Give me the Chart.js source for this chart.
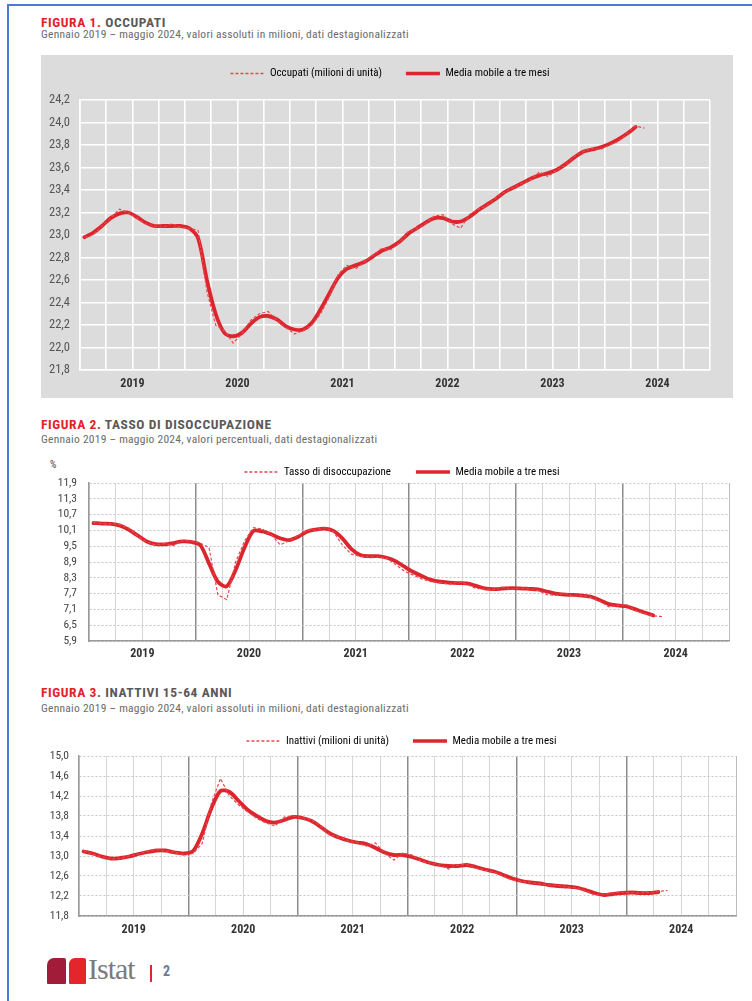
<!DOCTYPE html>
<html><head><meta charset="utf-8">
<script src="https://cdn.jsdelivr.net/npm/chart.js@4.4.1/dist/chart.umd.min.js"></script>
<style>
html,body{margin:0;padding:0;background:#fff;}
body{width:752px;height:1001px;position:relative;overflow:hidden;font-family:"Roboto Condensed","Liberation Sans",Arial,sans-serif;}
.abs{position:absolute;white-space:nowrap;}
.title{font-size:13.5px;line-height:13.5px;font-weight:bold;color:#595959;letter-spacing:0.6px;}
.title .r{color:#e4202b;}
.sub{font-size:11.5px;line-height:11.5px;color:#6b6b6b;letter-spacing:0.25px;}
canvas{position:absolute;}
</style></head><body>
<div class="abs" style="left:8px;top:4px;width:744px;height:2px;background:#4a7bd6"></div>
<div class="abs" style="left:7px;top:4px;width:2px;height:997px;background:#4a7bd6"></div>

<div class="abs title" style="left:41px;top:16px"><span class="r">FIGURA 1.</span> OCCUPATI</div>
<div class="abs sub" style="left:41px;top:29px">Gennaio 2019 – maggio 2024, valori assoluti in milioni, dati destagionalizzati</div>
<canvas id="c1" style="background:#dcdcdc"></canvas>

<div class="abs title" style="left:41px;top:418px"><span class="r">FIGURA 2.</span> TASSO DI DISOCCUPAZIONE</div>
<div class="abs sub" style="left:41px;top:434px">Gennaio 2019 – maggio 2024, valori percentuali, dati destagionalizzati</div>
<div class="abs" style="left:50px;top:459px;font-size:10px;color:#444">%</div>
<canvas id="c2"></canvas>

<div class="abs title" style="left:41px;top:686px"><span class="r">FIGURA 3</span>. INATTIVI 15-64 ANNI</div>
<div class="abs sub" style="left:41px;top:703px">Gennaio 2019 – maggio 2024, valori assoluti in milioni, dati destagionalizzati</div>
<canvas id="c3"></canvas>

<div class="abs" style="left:47px;top:958px;width:19px;height:26px;background:#a11c38;border-radius:7px 2px 1px 1px"></div>
<div class="abs" style="left:69px;top:958px;width:17px;height:26px;background:#e3262c;border-radius:6px 2px 1px 1px"></div>
<div class="abs" style="left:88px;top:952px;font-family:'Liberation Serif',serif;font-size:30px;line-height:34px;color:#7a7a7a;letter-spacing:-1px">Istat</div>
<div class="abs" style="left:150px;top:965px;width:2px;height:17px;background:#e3262c"></div>
<div class="abs" style="left:163px;top:963px;font-size:14px;font-weight:bold;color:#6b7895">2</div>

<script>
const years = ['2019','2020','2021','2022','2023','2024'];

const occupati = [22.98,23.00,23.08,23.15,23.23,23.20,23.15,23.10,23.08,23.07,23.10,23.07,
 23.06,23.04,22.50,22.20,22.15,22.04,22.12,22.24,22.30,22.32,22.24,22.18,
 22.12,22.15,22.20,22.30,22.45,22.65,22.73,22.70,22.76,22.82,22.88,22.87,
 22.93,23.03,23.06,23.10,23.17,23.18,23.10,23.06,23.18,23.23,23.26,23.33,
 23.38,23.42,23.46,23.49,23.56,23.52,23.58,23.62,23.70,23.74,23.77,23.76,
 23.80,23.83,23.90,23.97,23.95];
const occupatiMM = [22.98,23.02,23.08,23.15,23.19,23.20,23.16,23.11,23.08,23.08,23.08,23.08,
 23.06,22.97,22.60,22.30,22.13,22.10,22.13,22.21,22.27,22.28,22.25,22.19,
 22.16,22.16,22.22,22.34,22.48,22.62,22.70,22.73,22.76,22.81,22.86,22.89,
 22.94,23.01,23.06,23.11,23.15,23.15,23.12,23.12,23.16,23.22,23.27,23.32,
 23.38,23.42,23.46,23.50,23.53,23.55,23.58,23.63,23.69,23.74,23.76,23.78,
 23.81,23.85,23.90,23.96];

const disoccupazione = [10.40,10.36,10.34,10.32,10.18,9.88,9.66,9.55,9.60,9.52,9.72,9.70,
 9.62,9.45,7.65,7.47,8.90,9.70,10.20,10.15,9.95,9.55,9.70,9.90,
 10.10,10.12,10.20,10.05,9.55,9.20,9.12,9.10,9.08,9.05,8.80,8.55,
 8.40,8.25,8.15,8.12,8.05,8.15,8.06,7.90,7.88,7.85,7.95,7.85,
 7.92,7.88,7.82,7.66,7.63,7.72,7.60,7.62,7.55,7.40,7.20,7.25,
 7.28,7.05,6.95,6.85,6.83];
const disoccupazioneMM = [10.38,10.36,10.35,10.28,10.12,9.90,9.68,9.58,9.57,9.62,9.68,9.66,
 9.55,8.85,8.15,7.98,8.60,9.45,10.08,10.06,9.95,9.80,9.73,9.85,
 10.05,10.13,10.17,10.08,9.80,9.40,9.17,9.12,9.12,9.06,8.93,8.72,
 8.52,8.36,8.22,8.15,8.12,8.10,8.09,8.00,7.90,7.87,7.89,7.91,
 7.90,7.88,7.86,7.78,7.70,7.66,7.65,7.62,7.58,7.45,7.30,7.25,
 7.21,7.10,6.98,6.87];

const inattivi = [13.10,13.04,12.98,12.94,12.95,13.00,13.04,13.10,13.13,13.10,13.08,13.02,
 13.05,13.25,14.05,14.55,14.20,14.02,13.88,13.75,13.66,13.60,13.78,13.80,
 13.76,13.72,13.60,13.42,13.38,13.30,13.27,13.20,13.26,13.05,12.92,13.06,
 13.02,12.90,12.86,12.82,12.74,12.82,12.83,12.76,12.72,12.68,12.60,12.52,
 12.49,12.47,12.45,12.42,12.41,12.38,12.36,12.31,12.22,12.24,12.26,12.28,
 12.26,12.26,12.27,12.29,12.31];
const inattiviMM = [13.09,13.05,12.99,12.95,12.96,12.99,13.04,13.08,13.11,13.11,13.07,13.05,
 13.10,13.45,13.95,14.30,14.28,14.10,13.92,13.80,13.70,13.67,13.72,13.78,
 13.76,13.70,13.58,13.45,13.37,13.31,13.27,13.24,13.16,13.07,13.02,13.02,
 12.98,12.92,12.86,12.82,12.80,12.80,12.82,12.78,12.73,12.69,12.62,12.55,
 12.50,12.47,12.45,12.42,12.40,12.39,12.37,12.32,12.26,12.22,12.24,12.26,
 12.27,12.26,12.26,12.28];

const legendRaw1 = 'Occupati (milioni di unità)';
const legendRaw2 = 'Tasso di disoccupazione';
const legendRaw3 = 'Inattivi (milioni di unità)';
const legendMM = 'Media mobile a tre mesi';

Chart.defaults.font.family = '"Roboto Condensed","Liberation Sans",Arial,sans-serif';

const monthPoints = vals => vals.map((v, i) => ({x: i + 0.5, y: v}));
const fmt = v => v.toFixed(1).replace('.', ',');

const fixLayout = {
  id: 'fixLayout',
  beforeInit(chart) {
    const lg = chart.legend;
    if (!lg) return;
    const orig = lg.fit.bind(lg);
    lg.fit = function () { orig(); this.height = chart.options.plugins.fixLayout.legendHeight; };
  },
  afterLayout(chart, args, opts) {
    const lg = chart.legend;
    if (!lg) return;
    const lo = lg.options.labels;
    const cur = lg.top + lo.padding + lo.font.size / 2;
    lg.top += opts.legendCy - cur;
    lg.height = lg.bottom - lg.top;
    const dx = opts.legendCx - (lg.left + lg.right) / 2;
    lg.left += dx; lg.right += dx;
  }
};

function makeChart(id, s) {
  const cv = document.getElementById(id);
  cv.width = s.w; cv.height = s.h;
  cv.style.left = s.left + 'px'; cv.style.top = s.top + 'px';
  cv.style.width = s.w + 'px'; cv.style.height = s.h + 'px';
  const R = s.w - s.plotRight;
  return new Chart(cv, {
    type: 'line',
    data: {datasets: [
      {label: s.label1, data: monthPoints(s.raw), borderColor: '#e8474e', borderWidth: 1.2, borderDash: [3, 2],
       pointRadius: 0, tension: 0, fill: false, legendWidth: 1.5},
      {label: legendMM, data: monthPoints(s.mm), borderColor: '#dc262d', borderWidth: 3.8,
       pointRadius: 0, tension: 0.3, fill: false, borderCapStyle: 'round', borderJoinStyle: 'round', legendWidth: 3.5}
    ]},
    options: {
      responsive: false, animation: false, devicePixelRatio: 1, events: [],
      layout: {padding: {left: 0, right: R, top: 0, bottom: 0}},
      plugins: {
        legend: {display: true, position: 'top', align: 'center',
          labels: {usePointStyle: true, pointStyleWidth: 34, boxHeight: 11, padding: s.legendGap,
            font: {size: 11}, color: '#333',
            generateLabels: chart => chart.data.datasets.map((ds, i) => ({
              text: ds.label, fillStyle: 'rgba(0,0,0,0)', strokeStyle: ds.borderColor,
              lineWidth: ds.legendWidth, lineDash: ds.borderDash || [], lineCap: 'butt',
              pointStyle: 'line', hidden: false, datasetIndex: i }))
          }},
        tooltip: {enabled: false},
        fixLayout: {legendHeight: s.plotTop, legendCy: s.legendCy, legendCx: s.legendCx}
      },
      scales: {
        x: {type: 'linear', min: 0, max: 72,
          afterFit: sc => { sc.height = s.h - s.plotBottom; },
          ticks: {stepSize: 3, autoSkip: false, maxRotation: 0, minRotation: 0, padding: s.xPad,
            font: {size: 12, weight: 'bold'}, color: '#333',
            callback: v => (v % 12 === 6 ? years[(v - 6) / 12] : '')},
          grid: s.xGrid, border: s.xBorder},
        y: {min: s.ymin, max: s.ymax,
          afterFit: sc => { sc.width = s.plotLeft; },
          ticks: {count: s.count, autoSkip: false, padding: s.yPad, font: {size: s.yFont}, color: s.yColor, callback: v => fmt(v)},
          grid: s.yGrid, border: s.yBorder}
      }
    },
    plugins: [fixLayout]
  });
}

const whiteGrid = {color: '#ffffff', lineWidth: 1.6, drawTicks: false};
const whiteBorder = {display: true, color: '#ffffff', width: 1.6};
const qColor = c => { const v = c.tick ? c.tick.value : 0; return (v % 12 === 0 && v > 0 && v < 72) ? '#8c8c8c' : (v === 72 ? '#bdbdbd' : '#d6d6d6'); };
const qWidth = c => { const v = c.tick ? c.tick.value : 0; return (v % 12 === 0 && v > 0 && v < 72) ? 1.5 : 1; };

makeChart('c1', {left: 41, top: 55, w: 692, h: 343, plotLeft: 39, plotRight: 669, plotTop: 45, plotBottom: 315,
  legendCx: 349, legendCy: 18.5, legendGap: 24, xPad: 7, yPad: 10, yFont: 12.5, yColor: '#555',
  label1: legendRaw1, raw: occupati, mm: occupatiMM, ymin: 21.8, ymax: 24.2, count: 13,
  xGrid: whiteGrid, xBorder: whiteBorder, yGrid: whiteGrid, yBorder: whiteBorder});

makeChart('c2', {left: 40, top: 455, w: 700, h: 210, plotLeft: 49, plotRight: 689, plotTop: 28, plotBottom: 186,
  legendCx: 362, legendCy: 17, legendGap: 25, xPad: 6, yPad: 12, yFont: 11.5, yColor: '#444',
  label1: legendRaw2, raw: disoccupazione, mm: disoccupazioneMM, ymin: 5.9, ymax: 11.9, count: 11,
  xGrid: {color: qColor, lineWidth: qWidth, drawTicks: false}, xBorder: {display: true, color: '#9a9a9a', width: 1.5},
  yGrid: {color: '#c4c4c4', lineWidth: 1, drawTicks: false}, yBorder: {display: true, color: '#9a9a9a', width: 1.5, dash: [2, 2]}});

makeChart('c3', {left: 40, top: 725, w: 705, h: 215, plotLeft: 39, plotRight: 696, plotTop: 31, plotBottom: 191,
  legendCx: 361.5, legendCy: 16, legendGap: 24, xPad: 7, yPad: 10, yFont: 11.5, yColor: '#444',
  label1: legendRaw3, raw: inattivi, mm: inattiviMM, ymin: 11.8, ymax: 15.0, count: 9,
  xGrid: {color: qColor, lineWidth: qWidth, drawTicks: false}, xBorder: {display: true, color: '#9a9a9a', width: 1.5},
  yGrid: {color: '#c4c4c4', lineWidth: 1, drawTicks: false}, yBorder: {display: true, color: '#9a9a9a', width: 1.5, dash: [2, 2]}});
</script>
</body></html>
